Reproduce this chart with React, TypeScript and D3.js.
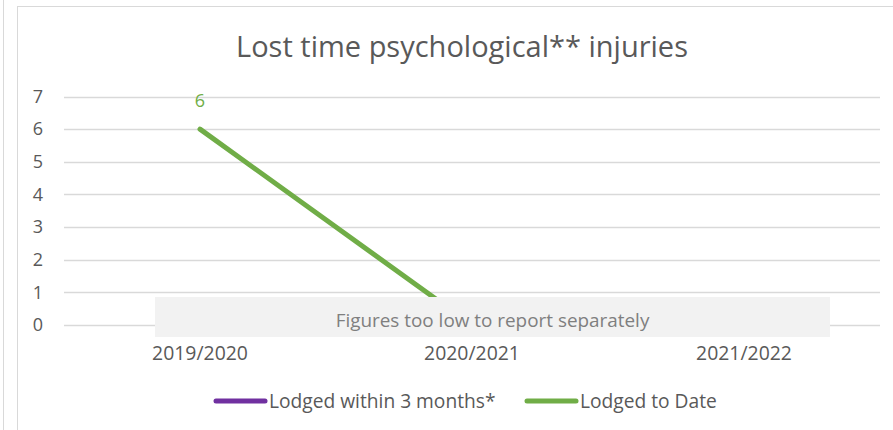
import React from 'react';
import * as d3 from 'd3';

const categories = ['2019/2020', '2020/2021', '2021/2022'];
const lodgedWithin3Months: (number | null)[] = [null, null, null];
const lodgedToDate: (number | null)[] = [6, 0, null];
const yTicks = [0, 1, 2, 3, 4, 5, 6, 7];
const seriesNames = ['Lodged within 3 months*', 'Lodged to Date'];
const seriesColors = ['#7030a0', '#70ad47'];
const noteText = 'Figures too low to report separately';

const FONT = '"Open Sans", sans-serif';

const App = () => {
    const width = 893;
    const height = 430;

    // plot area
    const x = d3.scaleBand().domain(categories).range([64, 880]);
    const y = d3.scaleLinear().domain([0, 7]).range([325, 96.5]);

    const line = d3
        .line<number | null>()
        .defined(d => d !== null)
        .x((d, i) => (x(categories[i]) as number) + x.bandwidth() / 2)
        .y(d => y(d as number));

    const series = [lodgedWithin3Months, lodgedToDate];

    return (
        <svg width={width} height={height} style={{ position: 'absolute', left: 0, top: 0, background: '#fff' }} fontFamily={FONT}>
            {/* outer frames */}
            <line x1={3.5} y1={0} x2={3.5} y2={height} stroke="#d9d9d9" strokeWidth={1} />
            <rect x={17.5} y={6.5} width={900} height={500} fill="#fff" stroke="#d9d9d9" strokeWidth={1} />

            {/* title */}
            <text x={462} y={57} textAnchor="middle" fontSize={29} fill="#595959">
                Lost time psychological** injuries
            </text>

            {/* gridlines + y labels */}
            {yTicks.map(t => (
                <g key={t}>
                    <line x1={64} x2={880} y1={Math.round(y(t)) + 0.5} y2={Math.round(y(t)) + 0.5} stroke="#d9d9d9" strokeWidth={1.3} />
                    <text x={38} y={y(t)} dy="0.35em" textAnchor="middle" fontSize={18} fill="#595959">{t}</text>
                </g>
            ))}

            {/* x labels */}
            {categories.map(c => (
                <text key={c} x={(x(c) as number) + x.bandwidth() / 2} y={360} textAnchor="middle" fontSize={19.4} fill="#595959">{c}</text>
            ))}

            {/* lines */}
            {series.map((s, i) => (
                <path key={i} d={line(s) || ''} fill="none" stroke={seriesColors[i]} strokeWidth={5} strokeLinecap="round" />
            ))}

            {/* data label */}
            {lodgedToDate.map((v, i) => (v !== null && v > 0 ? (
                <text key={i} x={(x(categories[i]) as number) + x.bandwidth() / 2} y={y(v) - 28} dy="0.35em" textAnchor="middle" fontSize={18} fill="#70ad47">{v}</text>
            ) : null))}

            {/* note box */}
            <rect x={155} y={297} width={675} height={40} fill="#f2f2f2" />
            <text x={492.5} y={320} dy="0.35em" textAnchor="middle" fontSize={18.9} fill="#7f7f7f">{noteText}</text>

            {/* legend */}
            {seriesNames.map((n, i) => {
                const lx = i === 0 ? 216 : 527;
                return (
                    <g key={n}>
                        <line x1={lx} x2={lx + 49} y1={401} y2={401} stroke={seriesColors[i]} strokeWidth={5} strokeLinecap="round" />
                        <text x={lx + 53} y={401} dy="0.35em" fontSize={19.2} fill="#595959">{n}</text>
                    </g>
                );
            })}
        </svg>
    );
};

export default App;
